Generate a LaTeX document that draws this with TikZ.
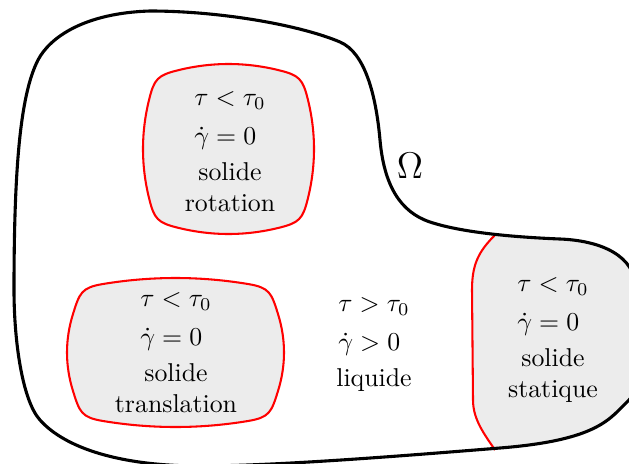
\documentclass[tikz,border=0pt]{standalone}
\usepackage{amsmath,amssymb}
\usetikzlibrary{positioning}
\definecolor{zonecolor}{gray}{0.925}
\newcommand{\loi}[2]{\begin{tabular}[b]{@{}l@{}}$#1$\\[3pt]$#2$\end{tabular}}
% rounded blob with bulging sides: centre (#1,#2), half sizes #3 and #4
\newcommand{\bulle}[4]{%
  \pgfmathsetmacro\xs{#3-6}\pgfmathsetmacro\ys{#4-36}%
  \pgfmathsetmacro\xsc{#3+2}\pgfmathsetmacro\ysc{(#4-36)/3}%
  \pgfmathsetmacro\xt{#3-36}\pgfmathsetmacro\yt{#4-6}%
  \pgfmathsetmacro\xtc{(#3-36)/3}\pgfmathsetmacro\ytc{#4+2}%
  \pgfmathsetmacro\p{22*8/veclen(8,2*\ys/3)}%
  \pgfmathsetmacro\q{22*(2*\ys/3)/veclen(8,2*\ys/3)}%
  \pgfmathsetmacro\r{22*(2*\xt/3)/veclen(2*\xt/3,8)}%
  \pgfmathsetmacro\s{22*8/veclen(2*\xt/3,8)}%
  \begin{scope}[shift={(#1,#2)}]
    \draw[bulle] (-\xs,\ys) .. controls (-\xsc,\ysc) and (-\xsc,-\ysc) .. (-\xs,-\ys)
      .. controls ({-(\xs-\p)},{-(\ys+\q)}) and ({-(\xt+\r)},{-(\yt-\s)}) .. (-\xt,-\yt)
      .. controls (-\xtc,-\ytc) and (\xtc,-\ytc) .. (\xt,-\yt)
      .. controls ({\xt+\r},{-(\yt-\s)}) and ({\xs-\p},{-(\ys+\q)}) .. (\xs,-\ys)
      .. controls (\xsc,-\ysc) and (\xsc,\ysc) .. (\xs,\ys)
      .. controls ({\xs-\p},{\ys+\q}) and ({\xt+\r},{\yt-\s}) .. (\xt,\yt)
      .. controls (\xtc,\ytc) and (-\xtc,\ytc) .. (-\xt,\yt)
      .. controls ({-(\xt+\r)},{\yt-\s}) and ({-(\xs-\p)},{\ys+\q}) .. (-\xs,\ys) -- cycle;
  \end{scope}}

\begin{document}
\begin{tikzpicture}[x=0.3876pt, y=-0.3876pt,
    bord/.style={very thick, black},
    bulle/.style={thick, red, fill=zonecolor},
    etat/.style={align=center, inner sep=0pt}]
  \useasboundingbox (0,0) rectangle (629,463);
  \path[save path=\domaine] (14,290)
    .. controls (14,170) and (20,95) .. (38,60)
    .. controls (50,37) and (85,13) .. (150,11)
    .. controls (220,11) and (300,25) .. (340,42)
    .. controls (365,52.6) and (376,95) .. (380,140)
    .. controls (384,185) and (400,212) .. (430,222)
    .. controls (460,232) and (510,237) .. (560,239)
    .. controls (600,240.6) and (636,255) .. (636,290)
    .. controls (636,340) and (640,390) .. (629,400)
    .. controls (610,418) and (600,440) .. (500,448)
    .. controls (420,454.4) and (280,466) .. (200,466)
    .. controls (120,466) and (65,448) .. (40,420)
    .. controls (22,400) and (14,340) .. (14,290) -- cycle;
  % zone statique
  \begin{scope}
    \clip[use path=\domaine];
    \fill[zonecolor] (495,235) .. controls (478,252) and (472,265) .. (472,290)
      -- (473,400) .. controls (473,420) and (485,435) .. (495,450)
      -- (495,520) -- (700,520) -- (700,200) -- (495,200) -- cycle;
  \end{scope}
  \draw[thick, red] (495,235) .. controls (478,252) and (472,265) .. (472,290)
    -- (473,400) .. controls (473,420) and (485,435) .. (495,450);
  \draw[bord, use path=\domaine];
  % zones solides
  \bulle{228.5}{149}{85.5}{85}
  \bulle{175.5}{352.5}{108.5}{74.5}
  \node[etat] (rot) at (230,148) {\loi{\tau<\tau_0}{\dot{\gamma}=0}\\[2pt] solide\\ rotation};
  \node[etat] (trans) at (176,349) {\loi{\tau<\tau_0}{\dot{\gamma}=0}\\[2pt] solide\\ translation};
  \node[etat] (liq) at (374,341) {\loi{\tau>\tau_0}{\dot{\gamma}>0}\\[2pt] liquide};
  \node[etat] (stat) at (553,336) {\loi{\tau<\tau_0}{\dot{\gamma}=0}\\[2pt] solide\\ statique};
  \node[font=\Large] (omega) at (410,166) {$\Omega$};
\end{tikzpicture}
\end{document}
